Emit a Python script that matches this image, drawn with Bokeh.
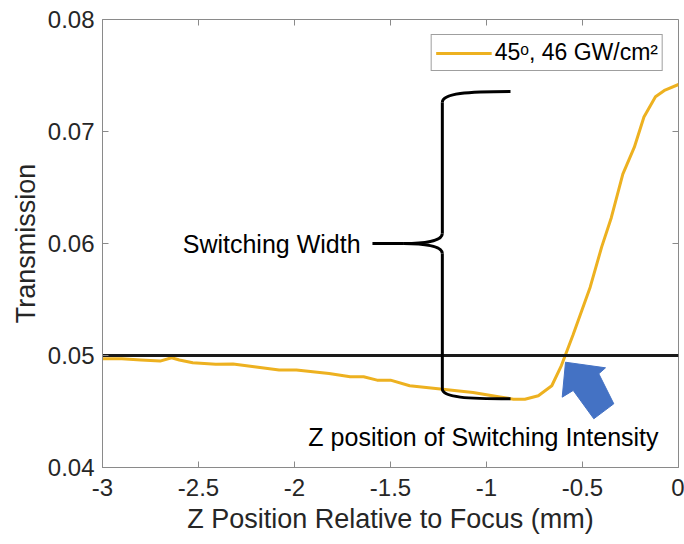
from bokeh.plotting import figure
from bokeh.models import FixedTicker, Legend, LegendItem, Range1d, ColumnDataSource
from bokeh.core.properties import value
from bokeh.embed import file_html
from bokeh.resources import INLINE

# ---------------- data ----------------
z_mm = [-3.00, -2.90, -2.80, -2.70, -2.64, -2.60, -2.53, -2.41, -2.32, -2.21,
        -2.08, -1.99, -1.82, -1.71, -1.64, -1.57, -1.50, -1.40, -1.24, -1.07,
        -0.93, -0.86, -0.80, -0.73, -0.66, -0.61, -0.59, -0.55, -0.46, -0.40,
        -0.35, -0.29, -0.23, -0.18, -0.12, -0.07, 0.00]
transmission = [0.0497, 0.0497, 0.0496, 0.0495, 0.0498, 0.0496, 0.04935, 0.04922, 0.04925, 0.0490,
                0.0487, 0.0487, 0.0484, 0.0481, 0.0481, 0.0478, 0.0478, 0.0473, 0.0470, 0.0467,
                0.0463, 0.0461, 0.0461, 0.0464, 0.0473, 0.0491, 0.0500, 0.0518, 0.0561, 0.0597,
                0.0623, 0.0662, 0.0686, 0.0713, 0.0731, 0.0737, 0.0742]
series_label = "45\u1d52, 46 GW/cm\u00b2"
threshold = 0.05

x_ticks = [-3, -2.5, -2, -1.5, -1, -0.5, 0]
x_tick_labels = ["-3", "-2.5", "-2", "-1.5", "-1", "-0.5", "0"]
y_ticks = [0.04, 0.05, 0.06, 0.07, 0.08]
y_tick_labels = ["0.04", "0.05", "0.06", "0.07", "0.08"]

# annotation geometry (data coordinates)
brace_x = -1.23
brace_end_x = -0.875
brace_top = 0.07357
brace_bot = 0.04613
brace_mid = 0.0600
brace_tip_x = -1.43
label_line_x0 = -1.594
arrow_x = [-0.5885, -0.6057, -0.5484, -0.4411, -0.3370, -0.4151, -0.3802]
arrow_y = [0.04940, 0.04628, 0.04688, 0.04435, 0.04569, 0.04837, 0.04890]

FONT = "Liberation Sans"
FRAME = "#8a8a8a"
TXT = "#262626"
ORANGE = "#EDB120"
X0, X1, Y0, Y1 = -3, 0, 0.04, 0.08
TICK_DX = 6 / 192 * (X1 - X0) / 3      # 6 px in x data units
TICK_DY = 6 / 448 * (Y1 - Y0)          # 6 px in y data units

p = figure(width=684, height=544, output_backend="svg", toolbar_location=None,
           x_range=Range1d(X0, X1), y_range=Range1d(Y0, Y1),
           min_border_left=102, min_border_right=6, min_border_top=19,
           min_border_bottom=77, background_fill_color="white",
           border_fill_color="white")
p.grid.visible = False
p.outline_line_color = FRAME
p.outline_line_width = 1

# axes
p.xaxis.ticker = FixedTicker(ticks=x_ticks)
p.xaxis.major_label_overrides = dict(zip(x_ticks, x_tick_labels))
p.yaxis.ticker = FixedTicker(ticks=y_ticks)
p.yaxis.major_label_overrides = dict(zip(y_ticks, y_tick_labels))
p.xaxis.axis_label = "Z Position Relative to Focus (mm)"
p.yaxis.axis_label = "Transmission"
for ax in (p.xaxis, p.yaxis):
    ax.axis_line_color = FRAME
    ax.major_tick_line_color = FRAME
    ax.major_tick_in = 6
    ax.major_tick_out = 0
    ax.minor_tick_line_color = None
    ax.major_label_text_font = FONT
    ax.major_label_text_font_size = "24px"
    ax.major_label_text_color = TXT
    ax.axis_label_text_font = FONT
    ax.axis_label_text_font_size = "27px"
    ax.axis_label_text_font_style = "normal"
    ax.axis_label_text_color = TXT
p.xaxis.major_label_standoff = 11
p.xaxis.axis_label_standoff = 5
p.yaxis.major_label_standoff = 8
p.yaxis.axis_label_standoff = 4

# mirrored ticks on top and right edges of the box
p.segment(x0=x_ticks, y0=[Y1] * len(x_ticks), x1=x_ticks, y1=[Y1 - TICK_DY] * len(x_ticks),
          line_color=FRAME, line_width=1)
p.segment(x0=[X1] * len(y_ticks), y0=y_ticks, x1=[X1 - TICK_DX] * len(y_ticks), y1=y_ticks,
          line_color=FRAME, line_width=1)

# data curve
src = ColumnDataSource(dict(x=z_mm, y=transmission))
curve = p.line("x", "y", source=src, line_color=ORANGE, line_width=3)

# threshold line
p.line(x=[X0, X1], y=[threshold, threshold], line_color="#1a1a1a", line_width=3)

# brace
BL = dict(line_color="black", line_width=3)
p.bezier(x0=[brace_x], y0=[0.0726], x1=[brace_end_x], y1=[brace_top],
         cx0=[brace_x], cy0=[0.0734], cx1=[-1.10], cy1=[brace_top], **BL)
p.segment(x0=[brace_x], y0=[0.0726], x1=[brace_x], y1=[0.0609], **BL)
p.bezier(x0=[brace_x], y0=[0.0609], x1=[brace_tip_x], y1=[brace_mid],
         cx0=[brace_x], cy0=[0.0602], cx1=[-1.33], cy1=[brace_mid], **BL)
p.bezier(x0=[brace_x], y0=[0.0591], x1=[brace_tip_x], y1=[brace_mid],
         cx0=[brace_x], cy0=[0.0598], cx1=[-1.33], cy1=[brace_mid], **BL)
p.segment(x0=[brace_x], y0=[0.0591], x1=[brace_x], y1=[0.0470], **BL)
p.bezier(x0=[brace_x], y0=[0.0470], x1=[brace_end_x], y1=[brace_bot],
         cx0=[brace_x], cy0=[0.04625], cx1=[-1.10], cy1=[brace_bot], **BL)
p.segment(x0=[label_line_x0], y0=[brace_mid], x1=[brace_tip_x], y1=[brace_mid], **BL)

p.text(x=[-1.656], y=[brace_mid], text=["Switching Width"], text_align="right",
       text_baseline="middle", text_font=value(FONT), text_font_size="25px",
       text_color="black")

# arrow
p.patch(x=arrow_x, y=arrow_y, fill_color="#4472C4", line_color="#4472C4", line_width=1)
p.text(x=[-0.104], y=[0.04268], text=["Z position of Switching Intensity"],
       text_align="right", text_baseline="middle", text_font=value(FONT),
       text_font_size="25px", text_color="black")

# legend
legend = Legend(items=[LegendItem(label=series_label, renderers=[curve])],
                location="top_right", margin=15, padding=4, spacing=0,
                label_text_font=FONT, label_text_font_size="23px",
                label_text_color="black", glyph_width=56, glyph_height=24,
                label_standoff=3, border_line_color="#404040", border_line_width=1,
                background_fill_color="white", background_fill_alpha=1.0)
p.add_layout(legend)

open("out.html", "w").write(file_html(p, INLINE))
